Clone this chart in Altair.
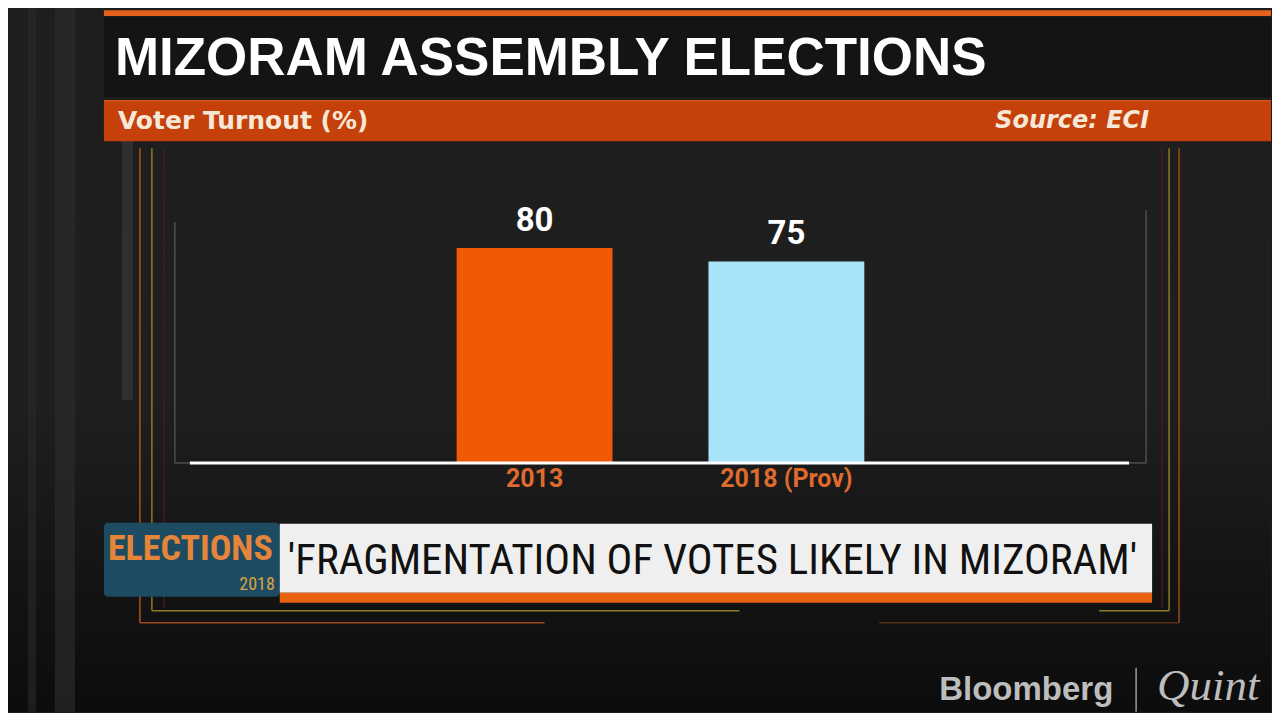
import altair as alt
import pandas as pd

# ---------------- data ----------------
categories = ["2013", "2018 (Prov)"]
turnout = [80, 75]
bar_colors = ["#f05a05", "#a9e3fa"]

title_text = "MIZORAM ASSEMBLY ELECTIONS"
subtitle_text = "Voter Turnout (%)"
source_text = "Source: ECI"
ticker_text = "'FRAGMENTATION OF VOTES LIKELY IN MIZORAM'"
logo_word = "ELECTIONS"
logo_year = "2018"
brand_left = "Bloomberg"
brand_right = "Quint"

W, H = 1264, 704
COND = "Roboto Condensed, Liberation Sans Narrow, DejaVu Sans Condensed, Arial Narrow, sans-serif"

df = pd.DataFrame({"year": categories, "turnout": turnout, "color": bar_colors})

xscale = alt.Scale(domain=categories, range=[449, 857], paddingInner=0.381, paddingOuter=0)
yscale = alt.Scale(domain=[0, 100], range=[454, 186.5])


def one():
    return alt.Chart(pd.DataFrame({"k": [0]}))


def rect(x, x2, y, y2, color, opacity=1.0, radius=0):
    return one().mark_rect(color=color, opacity=opacity, cornerRadius=radius).encode(
        x=alt.value(x), x2=alt.value(x2), y=alt.value(y), y2=alt.value(y2))


def vline(x, y, y2, color, width=1.5, opacity=1.0):
    return one().mark_rule(color=color, strokeWidth=width, opacity=opacity).encode(
        x=alt.value(x), y=alt.value(y), y2=alt.value(y2))


def hline(x, x2, y, color, width=1.5, opacity=1.0):
    return one().mark_rule(color=color, strokeWidth=width, opacity=opacity).encode(
        x=alt.value(x), x2=alt.value(x2), y=alt.value(y))


def label(t, x, y, size, color, font="Roboto", weight="bold", style="normal",
          align="left", baseline="alphabetic"):
    return one().mark_text(text=t, font=font, fontSize=size, fontWeight=weight,
                           fontStyle=style, color=color, align=align,
                           baseline=baseline).encode(x=alt.value(x), y=alt.value(y))


bg = one().mark_rect(color=alt.Gradient(
    gradient="linear", x1=0, y1=0, x2=0, y2=1,
    stops=[alt.GradientStop(color="#1e1e1e", offset=0),
           alt.GradientStop(color="#1f1f1f", offset=0.55),
           alt.GradientStop(color="#0c0c0c", offset=1)])).encode(
    x=alt.value(0), x2=alt.value(W), y=alt.value(0), y2=alt.value(H))

layers = [
    bg,
    # left decorative stripes
    rect(20, 28, 0, H, "#2a2a2a", 0.6),
    rect(47, 67, 0, H, "#2b2b2b", 0.7),
    rect(114, 125, 132, 392, "#3a3a3a", 0.6),
    # frame lines left
    vline(132, 140, 615, "#b0521e", 1.5),
    vline(144, 140, 603, "#8c7a2a", 1.5),
    vline(156, 140, 600, "#4a1a18", 1.5),
    hline(144, 732, 603, "#8c7a2a", 1.5),
    hline(132, 537, 615, "#9a4a1c", 1.5),
    # frame lines right
    vline(1155, 140, 600, "#4a1a18", 1.5),
    vline(1162, 140, 603, "#8c7a2a", 1.5),
    vline(1172, 140, 615, "#9a4a1c", 1.5),
    hline(1092, 1162, 603, "#8c7a2a", 1.5),
    hline(872, 1172, 615, "#6a3416", 1.5, 0.8),
    # inner gray axis frame
    vline(167, 214, 455, "#4e4e4e", 1.5),
    vline(1139, 202, 455, "#4e4e4e", 1.5),
    hline(167, 182, 455, "#4e4e4e", 1.5),
    hline(1122, 1139, 455, "#4e4e4e", 1.5),
    # header
    rect(96, W, 2, 8, "#e5601c"),
    rect(96, W, 8, 89, "#141414"),
    rect(96, W, 92, 133, "#c5400a"),
    hline(96, W, 92.5, "#de5f26", 1),
    label(title_text, 107, 67, 53, "#ffffff", font="Liberation Sans, Arial, sans-serif"),
    label(subtitle_text, 110, 113, 25, "#f6e8d6", font="DejaVu Sans, Verdana, sans-serif",
          baseline="middle"),
    label(source_text, 1142, 113, 24, "#f6e8d6", font="DejaVu Sans, Verdana, sans-serif",
          style="italic", align="right", baseline="middle"),
]

x_enc = alt.X("year:N", scale=xscale, axis=None, sort=categories)
y_enc = alt.Y("turnout:Q", scale=yscale, axis=None)

bars = alt.Chart(df).mark_bar().encode(
    x=x_enc, y=y_enc, color=alt.Color("color:N", scale=None, legend=None))

values = alt.Chart(df).mark_text(dy=-27, baseline="middle", font="Roboto",
                                 fontSize=33, fontWeight="bold", color="#ffffff").encode(
    x=x_enc, y=y_enc, text=alt.Text("turnout:Q"))

cats = alt.Chart(df).mark_text(baseline="middle", font="Roboto", fontSize=25,
                               fontWeight="bold", color="#df6a2e").encode(
    x=x_enc, y=alt.value(471), text=alt.Text("year:N"))

baseline_rule = hline(182, 1122, 455, "#ffffff", 3)

layers += [bars, baseline_rule, values, cats]

layers += [
    # ticker
    rect(96, 272, 515, 589, "#1d4b62", 1, 4),
    label(logo_word, 100, 541, 36, "#e5853a", font=COND, baseline="middle"),
    label(logo_year, 267, 577, 18, "#d9a441", font=COND, weight="normal",
          align="right", baseline="middle"),
    rect(272, 1145, 516, 585, "#efefef"),
    rect(272, 1145, 585, 595, "#e8610e"),
    label(ticker_text, 280, 553, 43, "#111111", font=COND, weight="normal",
          baseline="middle"),
    # brand
    label(brand_left, 932, 692, 33, "#bdbdbd", font="Liberation Sans, Arial, sans-serif"),
    vline(1129, 660, 704, "#9a9a9a", 1.5),
    label(brand_right, 1150, 692, 45, "#bdbdbd", font="Liberation Serif, serif",
          weight="normal", style="italic"),
]

chart = alt.layer(*layers).properties(
    width=W, height=H, padding=0, background="#1b1b1b"
).configure_view(stroke=None)

chart.save("out.html", embed_options={"renderer": "svg", "actions": False})
